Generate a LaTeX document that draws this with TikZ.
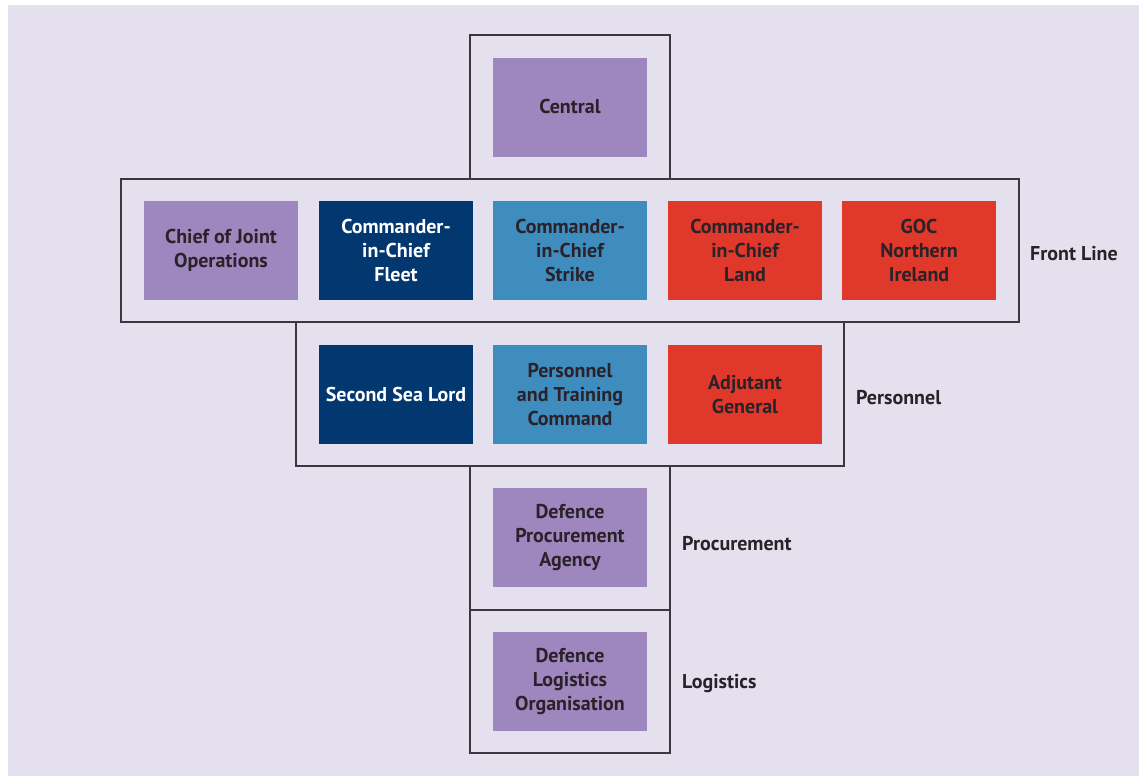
\documentclass[tikz,border=0pt]{standalone}
\usepackage{fontspec}
\setmainfont{PT Sans}
\definecolor{bgc}{HTML}{E4E0EE}
\definecolor{purp}{HTML}{9D87BE}
\definecolor{navy}{HTML}{03376F}
\definecolor{lblue}{HTML}{3F8CBF}
\definecolor{redc}{HTML}{E0392B}
\definecolor{txt}{HTML}{2A2228}
\definecolor{frame}{HTML}{3A383C}
\begin{document}
\begin{tikzpicture}[x=1pt,y=-1pt,
  unitbox/.style={rectangle,minimum width=154pt,minimum height=99pt,inner sep=0pt,align=center,
    font=\fontsize{20}{24}\selectfont\bfseries,text=txt},
  pbox/.style={unitbox,fill=purp},
  nbox/.style={unitbox,fill=navy,text=white},
  bbox/.style={unitbox,fill=lblue},
  rbox/.style={unitbox,fill=redc},
  grp/.style={draw=frame,line width=1.3pt},
  lab/.style={anchor=west,font=\fontsize{20}{24}\selectfont\bfseries,text=txt,inner sep=0pt}]
\useasboundingbox (0,0) rectangle (1139,776);
\fill[white] (0,0) rectangle (1139,776);
\fill[bgc] (8,5) rectangle (1139,776);
% frames
\draw[grp] (470,35) rectangle (670,179);
\draw[grp] (121,179) rectangle (1019,322);
\draw[grp] (296,322) rectangle (844,466);
\draw[grp] (470,466) rectangle (670,610);
\draw[grp] (470,610) rectangle (670,753);
% boxes
\node[pbox] (central) at (570,107.5) {\raisebox{3pt}{Central}};
\node[pbox] (cjo) at (221,250.5) {Chief of Joint\\Operations};
\node[nbox] (fleet) at (396,250.5) {Commander-\\in-Chief\\Fleet};
\node[bbox] (strike) at (570,250.5) {Commander-\\in-Chief\\Strike};
\node[rbox] (land) at (745,250.5) {Commander-\\in-Chief\\Land};
\node[rbox] (goc) at (919,250.5) {GOC\\Northern\\Ireland};
\node[nbox] (ssl) at (396,394.5) {Second Sea Lord};
\node[bbox] (ptc) at (570,394.5) {Personnel\\and Training\\Command};
\node[rbox] (ag) at (745,394.5) {Adjutant\\General};
\node[pbox] (dpa) at (570,537.5) {Defence\\Procurement\\Agency};
\node[pbox] (dlo) at (570,681.5) {Defence\\Logistics\\Organisation};
% labels
\node[lab] (lfront) at (1030,254) {Front Line};
\node[lab] (lpers) at (856,398) {Personnel};
\node[lab] (lproc) at (682,544) {Procurement};
\node[lab] (llog) at (682,683) {Logistics};
\end{tikzpicture}
\end{document}
